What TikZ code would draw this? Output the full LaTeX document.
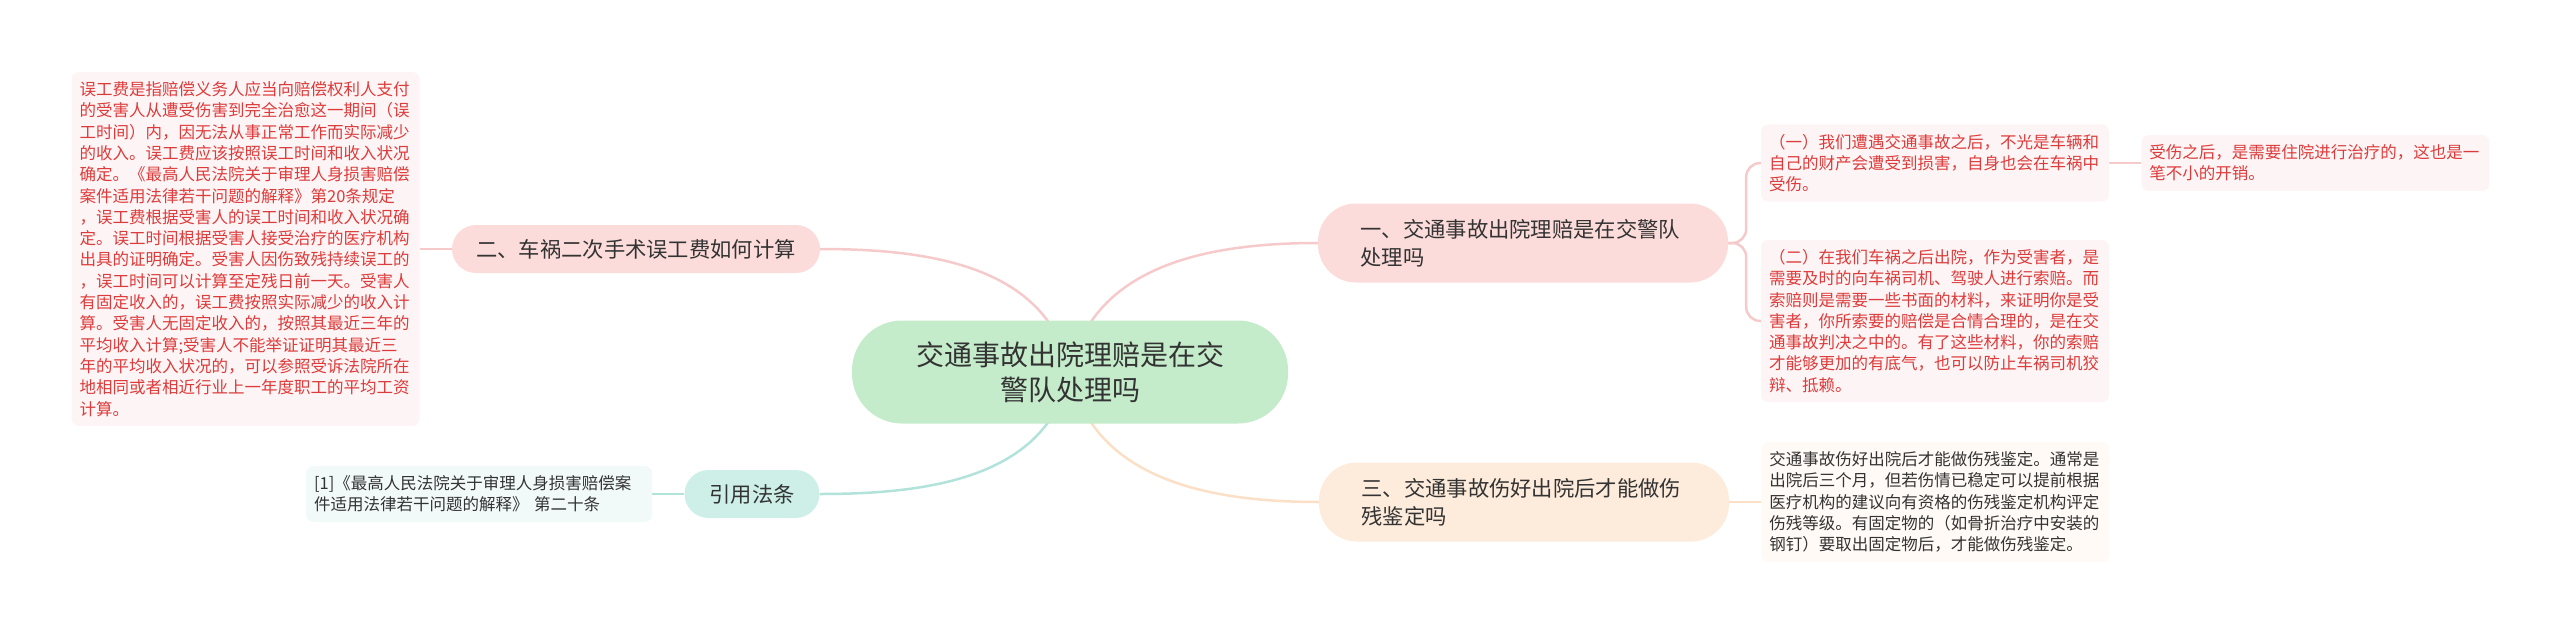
\documentclass[tikz,border=0pt]{standalone}
\usepackage{fontspec}
\setmainfont{Noto Sans CJK SC}
\usetikzlibrary{positioning, backgrounds}
\definecolor{RootGreen}{HTML}{C4EBCA}
\definecolor{PinkFill}{HTML}{FBDCDA}
\definecolor{PeachFill}{HTML}{FDEBDB}
\definecolor{TealFill}{HTML}{CDEFE8}
\definecolor{PinkLeaf}{HTML}{FDF5F5}
\definecolor{PeachLeaf}{HTML}{FFFAF5}
\definecolor{TealLeaf}{HTML}{F2FAF9}
\definecolor{PinkLine}{HTML}{F6CACA}
\definecolor{PeachLine}{HTML}{FBDFC6}
\definecolor{TealLine}{HTML}{B2E3DA}
\definecolor{LeafRed}{HTML}{DD3B3B}
\definecolor{Ink}{HTML}{333333}

\begin{document}
\begin{tikzpicture}[
    x=1pt, y=-1pt,
    root/.style={fill=RootGreen, rounded corners=50pt, minimum width=436pt, minimum height=103pt, align=center, text=Ink, font=\fontsize{28}{35}\selectfont},
    topic/.style={rounded corners=38pt, minimum height=79pt, text width=325pt, inner xsep=42.5pt, align=left, text=Ink, font=\fontsize{21.3}{28}\selectfont},
    onetopic/.style={rounded corners=24pt, minimum height=48pt, align=center, text=Ink, font=\fontsize{21.3}{28}\selectfont},
    leaf/.style={rounded corners=7pt, text width=332pt, inner xsep=8pt, inner ysep=9.5pt, align=left, font=\fontsize{16.5}{21.3}\selectfont},
    link/.style={line width=2.5pt}
]
\useasboundingbox (0,0) rectangle (2560,635);

% Root and main topics
\node[root] (root) at (1070,372) {交通事故出院理赔是在交\\警队处理吗};
\node[topic, fill=PinkFill] (t1) at (1523,243) {一、交通事故出院理赔是在交警队\\处理吗};
\node[onetopic, fill=PinkFill, minimum width=368pt] (t2) at (636,249) {二、车祸二次手术误工费如何计算};
\node[topic, fill=PeachFill] (t3) at (1524,502) {三、交通事故伤好出院后才能做伤\\残鉴定吗};
\node[onetopic, fill=TealFill, minimum width=135pt] (cite) at (752,494) {引用法条};

% Details
\node[leaf, fill=PinkLeaf, text=LeafRed] (d1a) at (1935,163) {（一）我们遭遇交通事故之后，不光是车辆和\\自己的财产会遭受到损害，自身也会在车祸中\\受伤。};
\node[leaf, fill=PinkLeaf, text=LeafRed, right=32pt of d1a] (d1c) {受伤之后，是需要住院进行治疗的，这也是一\\笔不小的开销。};
\node[leaf, fill=PinkLeaf, text=LeafRed] (d1b) at (1935,321) {（二）在我们车祸之后出院，作为受害者，是\\需要及时的向车祸司机、驾驶人进行索赔。而\\索赔则是需要一些书面的材料，来证明你是受\\害者，你所索要的赔偿是合情合理的，是在交\\通事故判决之中的。有了这些材料，你的索赔\\才能够更加的有底气，也可以防止车祸司机狡\\辩、抵赖。};
\node[leaf, fill=PinkLeaf, text=LeafRed, left=32pt of t2] (d2) {误工费是指赔偿义务人应当向赔偿权利人支付\\的受害人从遭受伤害到完全治愈这一期间（误\\工时间）内，因无法从事正常工作而实际减少\\的收入。误工费应该按照误工时间和收入状况\\确定。《最高人民法院关于审理人身损害赔偿\\案件适用法律若干问题的解释》第20条规定\\，误工费根据受害人的误工时间和收入状况确\\定。误工时间根据受害人接受治疗的医疗机构\\出具的证明确定。受害人因伤致残持续误工的\\，误工时间可以计算至定残日前一天。受害人\\有固定收入的，误工费按照实际减少的收入计\\算。受害人无固定收入的，按照其最近三年的\\平均收入计算;受害人不能举证证明其最近三\\年的平均收入状况的，可以参照受诉法院所在\\地相同或者相近行业上一年度职工的平均工资\\计算。};
\node[leaf, fill=PeachLeaf, text=Ink, right=32pt of t3] (d3) {交通事故伤好出院后才能做伤残鉴定。通常是\\出院后三个月，但若伤情已稳定可以提前根据\\医疗机构的建议向有资格的伤残鉴定机构评定\\伤残等级。有固定物的（如骨折治疗中安装的\\钢钉）要取出固定物后，才能做伤残鉴定。};
\node[leaf, fill=TealLeaf, text=Ink, text width=330pt, left=32pt of cite] (d4) {[1]《最高人民法院关于审理人身损害赔偿案\\件适用法律若干问题的解释》 第二十条};

% Connectors
\begin{scope}[on background layer]
\draw[link, PinkLine] (root.center) to[out=78, in=180] (t1.west);
\draw[link, PinkLine] (root.center) to[out=102, in=0] (t2.east);
\draw[link, PeachLine] (root.center) to[out=-78, in=180] (t3.west);
\draw[link, TealLine] (root.center) to[out=-102, in=0] (cite.east);
\draw[link, PinkLine, rounded corners=14pt] (t1.east) -- ++(18,0) |- (d1a.west);
\draw[link, PinkLine, rounded corners=14pt] (t1.east) -- ++(18,0) |- (d1b.west);
\draw[link, PinkLine] (d1a.east) -- (d1c.west);
\draw[link, PinkLine] (t2.west) -- (d2.east);
\draw[link, PeachLine] (t3.east) -- (d3.west);
\draw[link, TealLine] (cite.west) -- (d4.east);
\end{scope}

\end{tikzpicture}
\end{document}
